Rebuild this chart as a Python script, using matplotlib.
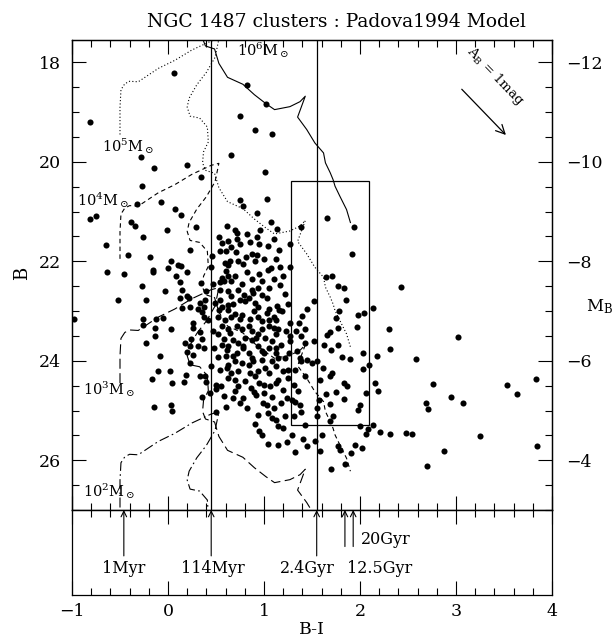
import numpy as np
import matplotlib
matplotlib.use("Agg")
import matplotlib.pyplot as plt
from matplotlib.patches import Rectangle
from matplotlib.ticker import MultipleLocator

plt.rcParams['font.family'] = ['DejaVu Serif']
plt.rcParams['mathtext.fontset'] = 'dejavuserif'

# cluster photometry (B-I, B)
bi = [0.06, 0.82, 1.02, 0.75, -0.81, 0.91, 1.08, -0.28, 0.66, -0.15, 0.20, 0.34, 1.01, -0.27,
      -0.32, -0.07, 0.07, 0.14, 0.75, 0.78, 1.03, 0.93, 1.07, -0.81, -0.75, -0.39, -0.34, 0.29,
      -0.26, 0.70, 0.82, 0.93, 1.14, 1.39, -0.65, 0.53, 0.56, 0.62, 0.23, -0.42, -0.19, 0.54,
      -0.01, 0.03, 0.10, 0.14, 0.00, -0.16, -0.16, 0.45, 0.20, 0.08, 0.12, -0.27, -0.03, 0.15,
      0.34, 0.20, 0.22, 0.40, -0.23, 0.12, 0.15, 0.33, 0.39, 0.37, 0.31, 0.35, 0.49, 0.53,
      -0.26, -0.26, -0.12, -0.05, -0.14, 0.03, 0.26, 0.26, 0.42, 0.38, -0.14, 0.33, 0.35, 0.24,
      0.31, 0.23, 0.60, 0.59, 0.63, 0.56, 0.63, 0.54, 0.58, 0.54, 0.62, 0.54, 0.56, 0.63,
      0.52, 0.59, 0.56, 0.62, 0.52, 0.58, 0.56, 0.63, 0.96, 0.61, 0.72, 0.72, 0.85, 0.75,
      1.04, 1.27, 1.16, 0.71, 0.88, 0.93, 0.81, 0.65, 0.73, 0.91, 1.04, 1.07, 1.17, 1.27,
      0.82, 0.66, 0.98, 0.73, 0.87, 0.94, 1.05, 1.17, 0.79, 0.66, 0.75, 0.84, 0.89, 0.98,
      1.03, 0.80, 0.91, 0.94, 1.14, 1.16, 1.52, 0.63, 0.66, 0.77, 0.75, 0.94, 1.03, 1.10,
      1.05, 1.12, 1.27, 1.36, 0.72, 0.77, 0.84, 0.87, 0.94, 0.98, 1.05, 1.12, 1.15, 1.27,
      0.65, 0.68, 0.73, 0.87, 1.01, 1.08, 1.18, 1.27, 1.39, 1.43, 0.78, 0.94, 1.12, 1.43,
      1.94, 1.92, 1.65, 1.71, 1.77, 1.83, 1.85, 1.78, 1.75, 1.98, 2.04, 2.14, 1.97, 1.77,
      1.69, 1.66, 1.52, 1.63, 1.77, 2.30, 2.31, 1.66, 2.43, 0.20, 0.26, 0.37, -0.08, 0.52,
      0.23, 0.45, 0.54, 0.61, -0.10, 0.02, -0.17, 0.04, 0.17, 0.19, 0.33, 0.39, 0.40, 0.50,
      0.50, 0.55, 0.58, 0.35, -0.15, 0.03, 0.04, 0.60, 0.50, -0.98, -0.23, 0.18, 0.23, -0.52,
      -0.64, -0.46, 0.61, 0.72, 0.78, 0.84, 0.98, 1.05, 1.12, 1.15, 0.63, 0.70, 0.77, 0.84,
      0.89, 0.98, 1.08, 1.12, 1.22, 1.34, 1.39, 1.45, 1.50, 0.73, 0.85, 0.94, 1.01, 1.20,
      1.25, 1.32, 1.43, 0.70, 0.73, 0.91, 1.00, 1.06, 1.12, 1.15, 1.20, 1.31, 0.90, 0.92,
      1.08, 1.24, 1.29, 0.68, 0.78, 0.75, 0.99, 1.03, 1.32, 1.38, 1.39, 1.31, 0.94, 1.04,
      1.08, 1.12, 1.22, 1.15, 0.91, 0.95, 0.98, 1.04, 1.15, 1.24, 1.29, 1.41, 1.32, 1.45,
      1.43, 1.70, 1.81, 1.90, 2.03, 2.18, 1.55, 1.61, 1.71, 1.69, 2.03, 2.09, 1.58, 1.83,
      1.86, 2.16, 2.19, 1.75, 1.65, 1.57, 1.83, 2.06, 1.69, 2.00, 1.98, 1.55, 1.72, 1.55,
      1.69, 2.00, 2.08, 2.14, 2.06, 2.21, 2.31, 1.60, 1.53, 1.58, 1.77, 1.79, 1.95, 2.02,
      1.91, 1.84, 1.70, 2.58, 3.02, 2.76, 2.95, 2.69, 2.71, 3.07, 3.53, 3.64, 3.83, 2.48,
      2.54, 3.25, 2.88, 2.70, 3.84,
      1.20, 1.22, 1.25, 1.10, 1.19, 1.23, 1.05, 0.98, 0.90, 0.85, 0.70, 0.68, 0.88, 0.95,
      1.12, 1.00, 0.78, 0.70, 0.77, 0.60, 0.66, 0.95, 1.10, 0.68, 0.80, 0.95, 1.05, 1.25,
      1.18, 1.10, 0.86, 0.82, 1.00, 1.35, 1.20, 1.37, 1.33, 1.40, 1.45, 0.47, 0.48, 0.46,
      0.47, 0.44, 0.70, 0.62, 0.88, 1.00, 1.26, 1.10, 0.80, 0.92, 0.60, 0.66]
bmag = [18.21, 18.46, 18.83, 19.08, 19.19, 19.36, 19.43, 19.91, 19.87, 20.12, 20.07, 20.30, 20.21, 20.49,
        20.84, 20.80, 20.94, 21.07, 20.76, 20.89, 20.74, 21.03, 21.20, 21.14, 21.09, 21.21, 21.28, 21.31,
        21.51, 21.38, 21.46, 21.51, 21.36, 21.31, 21.68, 21.51, 21.63, 21.60, 21.78, 21.88, 21.91, 21.80,
        21.38, 21.99, 22.08, 22.10, 22.14, 22.17, 22.22, 22.12, 22.21, 22.30, 22.41, 22.49, 22.59, 22.58,
        22.43, 22.69, 22.74, 22.60, 22.78, 22.74, 22.94, 22.84, 22.78, 22.92, 22.96, 23.01, 22.84, 22.97,
        23.15, 23.29, 23.16, 23.13, 23.34, 23.37, 23.24, 23.35, 23.17, 23.11, 23.51, 23.43, 23.56, 23.56,
        23.71, 23.71, 21.80, 22.03, 22.08, 22.33, 22.30, 22.41, 22.39, 22.57, 22.60, 22.77, 22.91, 22.87,
        23.11, 23.17, 23.31, 23.37, 23.47, 23.56, 23.68, 23.71, 21.38, 21.28, 21.44, 21.56, 21.62, 21.66,
        21.70, 21.65, 21.78, 21.81, 21.85, 21.88, 21.91, 22.00, 22.00, 22.00, 22.17, 22.13, 22.12, 22.12,
        22.22, 22.40, 22.40, 22.57, 22.58, 22.54, 22.54, 22.47, 22.67, 22.70, 22.77, 22.74, 22.64, 22.67,
        22.74, 22.80, 22.84, 22.91, 22.89, 22.97, 22.80, 22.97, 23.11, 23.07, 23.16, 23.11, 23.04, 23.11,
        23.17, 23.17, 23.24, 23.24, 23.31, 23.37, 23.31, 23.41, 23.47, 23.37, 23.31, 23.47, 23.37, 23.51,
        23.44, 23.58, 23.64, 23.58, 23.54, 23.61, 23.68, 23.61, 23.51, 23.37, 23.71, 23.71, 23.74, 23.64,
        21.31, 21.85, 22.32, 22.30, 22.50, 22.54, 22.78, 22.99, 23.13, 23.07, 23.03, 22.94, 23.32, 23.35,
        23.42, 23.49, 23.61, 23.68, 23.68, 23.36, 23.76, 21.13, 22.52, 23.82, 23.88, 23.74, 23.91, 23.93,
        24.04, 24.11, 24.18, 24.14, 24.21, 24.20, 24.37, 24.45, 24.43, 24.29, 24.31, 24.31, 24.43, 24.48,
        24.56, 24.51, 24.70, 24.72, 24.92, 24.88, 25.00, 24.92, 25.02, 23.16, 23.64, 23.64, 22.91, 22.77,
        22.21, 22.26, 23.78, 23.84, 23.74, 23.84, 23.81, 23.74, 23.84, 23.94, 24.08, 24.01, 24.04, 24.08,
        24.01, 23.98, 24.01, 24.11, 23.94, 23.81, 24.01, 23.98, 24.04, 24.21, 24.25, 24.21, 24.14, 24.21,
        24.18, 24.18, 24.31, 24.38, 24.51, 24.31, 24.48, 24.51, 24.45, 24.38, 24.58, 24.48, 24.62, 24.68,
        24.72, 24.75, 24.78, 24.75, 24.75, 24.85, 24.85, 24.88, 24.82, 24.88, 25.02, 25.12, 25.08, 25.05,
        25.15, 25.19, 25.12, 25.32, 25.27, 25.41, 25.49, 25.67, 25.69, 25.63, 25.49, 25.57, 25.84, 25.72,
        25.29, 23.78, 23.93, 23.96, 23.84, 23.91, 24.00, 24.14, 24.25, 24.31, 24.16, 24.09, 24.38, 24.45,
        24.51, 24.45, 24.60, 24.62, 24.67, 24.78, 24.77, 24.65, 24.87, 24.88, 24.98, 24.95, 25.10, 25.12,
        25.22, 25.32, 25.37, 25.29, 25.47, 25.43, 25.47, 25.50, 25.62, 25.81, 25.72, 25.79, 25.69, 25.75,
        25.85, 26.08, 26.17, 23.96, 23.53, 24.47, 24.72, 24.84, 24.97, 24.85, 24.49, 24.67, 24.36, 25.45,
        25.47, 25.51, 25.81, 26.12, 25.72,
        22.30, 22.65, 22.85, 22.35, 23.00, 23.40, 22.95, 23.20, 23.00, 23.15, 23.05, 22.85, 22.35, 22.25,
        21.95, 21.95, 22.05, 22.30, 22.45, 22.20, 21.72, 21.65, 21.55, 23.90, 24.40, 24.45, 24.25, 24.35,
        24.85, 24.95, 24.55, 24.95, 24.65, 24.60, 25.35, 23.95, 23.40, 23.10, 22.95, 23.40, 23.75, 21.90,
        22.45, 24.65, 24.60, 24.35, 23.95, 23.85, 23.85, 23.35, 23.55, 23.55, 23.90, 24.25]

# Padova 1994 SSP track, 1 Myr -> 20 Gyr, B for a 1e2 Msun cluster
track_bi = [-0.50, -0.50, -0.49, -0.45, -0.40, -0.31, -0.10, 0.07, 0.25, 0.45, 0.53, 0.49,
            0.40, 0.30, 0.22, 0.20, 0.23, 0.33, 0.41, 0.42, 0.37, 0.36, 0.39, 0.485, 0.53,
            0.62, 0.78, 0.90, 1.02, 1.11, 1.27, 1.375, 1.43, 1.35, 1.445, 1.53, 1.62, 1.64,
            1.69, 1.72, 1.74, 1.79, 1.86, 1.90]
track_b = [26.95, 26.40, 26.05, 25.93, 25.88, 25.89, 25.62, 25.46, 25.25, 25.07, 25.03, 25.40,
           25.70, 25.95, 26.22, 26.40, 26.58, 26.62, 26.80, 27.10, 27.30, 27.52, 27.67, 27.73, 28.02,
           28.30, 28.44, 28.65, 28.83, 28.95, 28.89, 28.79, 28.68, 29.10, 29.35, 29.62, 29.82, 30.02,
           30.22, 30.36, 30.49, 30.69, 30.96, 31.22]
mass_labels = [r'10$^2$M$_\odot$', r'10$^3$M$_\odot$', r'10$^4$M$_\odot$', r'10$^5$M$_\odot$', r'10$^6$M$_\odot$']
mass_dmag = [0.0, -2.5, -5.0, -7.5, -10.0]

age_labels = ['1Myr', '114Myr', '2.4Gyr', '12.5Gyr', '20Gyr']
age_bi = [-0.46, 0.45, 1.549, 1.843, 1.929]

# selection box (B-I range, B range)
box_bi = [1.28, 2.09]
box_b = [20.38, 25.29]

fig = plt.figure(figsize=(6.14, 6.38), dpi=100)
ax = fig.add_axes([72/614, 1-510/638, 480/614, 470/638])
axb = fig.add_axes([72/614, 1-595/638, 480/614, 85/638], sharex=ax)

styles = [(0, (9, 3, 1.5, 3)), (0, (9, 4)), (0, (4, 3)), (0, (1, 2)), '-']
label_pos = [(-0.885, 26.62), (-0.885, 24.58), (-0.95, 20.76), (-0.69, 19.69), (0.72, 17.76)]
for k in range(5):
    ax.plot(track_bi, np.array(track_b) + mass_dmag[k], color='k', lw=0.8, ls=styles[k])
    ax.text(label_pos[k][0], label_pos[k][1], mass_labels[k], fontsize=10.5, ha='left', va='center')

ax.plot(bi, bmag, 'o', color='k', ms=4.4, mew=0)

ax.axvline(age_bi[1], color='k', lw=0.9)
ax.axvline(age_bi[2], color='k', lw=0.9)
ax.add_patch(Rectangle((box_bi[0], box_b[0]), box_bi[1]-box_bi[0], box_b[1]-box_b[0],
                       fill=False, ec='k', lw=0.9))

# reddening vector
ax.annotate('', xy=(3.54, 19.5), xytext=(3.04, 18.5),
            arrowprops=dict(arrowstyle='->', color='k', lw=0.9, mutation_scale=16))
ax.text(3.41, 18.28, r'A$_{\rm B}$ = 1mag', fontsize=9.5, rotation=-46,
        ha='center', va='center', rotation_mode='anchor')

ax.set_xlim(-1, 4)
ax.set_ylim(27.0, 17.55)
ax.xaxis.set_major_locator(MultipleLocator(1))
ax.xaxis.set_minor_locator(MultipleLocator(0.2))
ax.yaxis.set_major_locator(MultipleLocator(2))
ax.yaxis.set_minor_locator(MultipleLocator(0.5))
ax.tick_params(which='both', direction='in', top=True, right=False, labelbottom=False)
ax.tick_params(which='major', length=10, width=0.8, labelsize=12.5, pad=8)
ax.tick_params(which='minor', length=5, width=0.8)

axr = ax.twinx()
axr.set_ylim(27.0 - 30, 17.55 - 30)
axr.yaxis.set_major_locator(MultipleLocator(2))
axr.yaxis.set_minor_locator(MultipleLocator(0.5))
axr.tick_params(which='both', direction='in')
axr.tick_params(which='major', length=10, width=0.8, labelsize=12.5, pad=10)
axr.tick_params(which='minor', length=5, width=0.8)

# age axis
axb.set_ylim(0, 1)
for k in range(5):
    y0 = 0.46 if k < 3 else 0.57
    axb.annotate('', xy=(age_bi[k], 1.0), xytext=(age_bi[k], y0),
                 arrowprops=dict(arrowstyle='->', color='k', lw=0.8, mutation_scale=10,
                                 shrinkA=0, shrinkB=0))
lab_xy = [(-0.46, 0.31, 'center'), (0.47, 0.31, 'center'), (1.45, 0.31, 'center'),
          (1.86, 0.31, 'left'), (2.01, 0.65, 'left')]
for k in range(5):
    axb.text(lab_xy[k][0], lab_xy[k][1], age_labels[k], fontsize=11.5,
             ha=lab_xy[k][2], va='center')
axb.tick_params(which='both', direction='in', top=True, left=False, labelleft=False)
axb.tick_params(which='major', length=10, width=0.8, labelsize=12.5, pad=6)
axb.tick_params(which='minor', length=5, width=0.8)

for a in (ax, axb, axr):
    for s in a.spines.values():
        s.set_linewidth(0.9)

fig.text(336/614, 1-21.7/638, 'NGC 1487 clusters : Padova1994 Model', fontsize=13.5,
         ha='center', va='center')
fig.text(21.7/614, 1-273/638, 'B', fontsize=13, rotation=90, ha='center', va='center')
fig.text(600/614, 1-307/638, r'M$_{\rm B}$', fontsize=12, ha='center', va='center')
fig.text(312/614, 1-629/638, 'B-I', fontsize=12.5, ha='center', va='center')

fig.savefig('out.png', dpi=100)
